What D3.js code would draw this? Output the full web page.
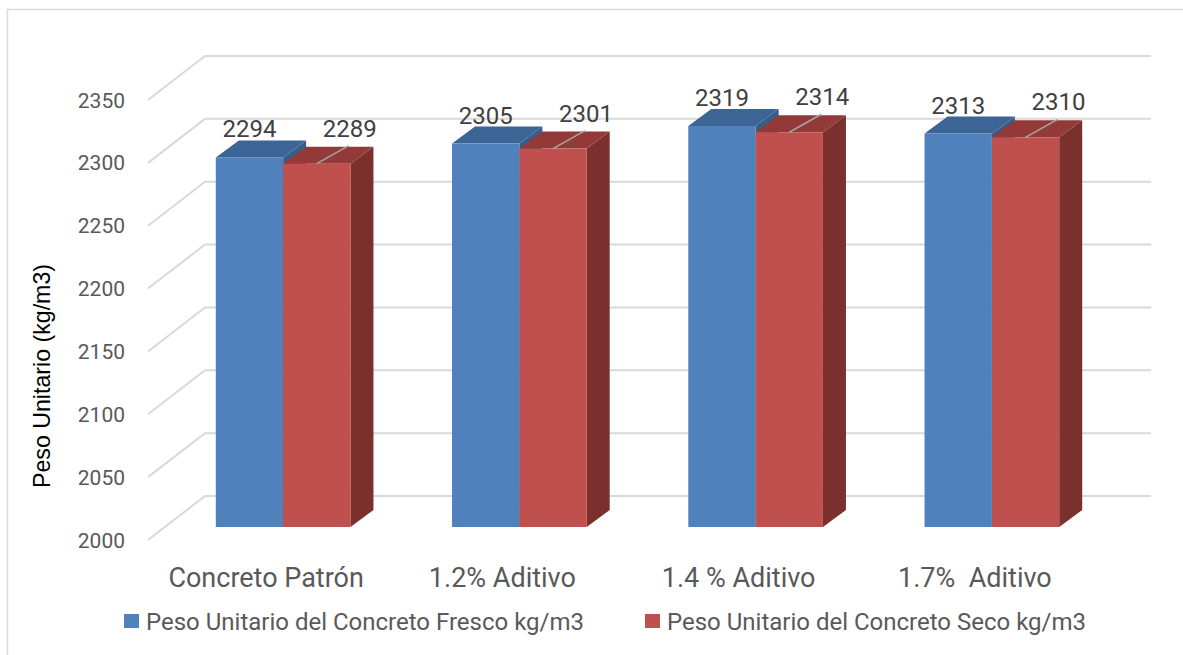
<!DOCTYPE html>
<html>
<head>
<meta charset="utf-8">
<script src="https://cdn.jsdelivr.net/npm/d3@7"></script>
<style>
  body { margin: 0; background: #fff; }
  text { font-family: Roboto, "Open Sans", sans-serif; }
</style>
</head>
<body>
<svg width="1183" height="655"></svg>
<script>
// data
var categories = ["Concreto Patrón", "1.2% Aditivo", "1.4 % Aditivo", "1.7%  Aditivo"];
var seriesNames = ["Peso Unitario del Concreto Fresco kg/m3", "Peso Unitario del Concreto Seco kg/m3"];
var fresco = [2294, 2305, 2319, 2313];
var seco = [2289, 2301, 2314, 2310];
var yTicks = [2000, 2050, 2100, 2150, 2200, 2250, 2300, 2350];

var colors = [
  {front: "#4f81bd", top: "#3c6595", side: "#385d8a"},
  {front: "#c0504d", top: "#933a38", side: "#7b302e"}
];

var svg = d3.select("svg");

// chart area border
svg.append("rect")
  .attr("x", 7.5).attr("y", 9.5)
  .attr("width", 1190).attr("height", 660)
  .attr("fill", "none").attr("stroke", "#d9d9d9").attr("stroke-width", 1.5);

// 3D geometry: floor depth offset and bar depth
var DX = 57, DY = -44;
var barOff = {x: 17, y: -13}, barDepth = {x: 23, y: -17};

var y = d3.scaleLinear().domain([2000, 2350]).range([540, 100]);
var x0 = d3.scaleBand().domain(categories).range([148, 1093])
  .paddingInner(0.43).paddingOuter(0.215);
var x1 = d3.scaleBand().domain([0, 1]).range([0, x0.bandwidth()]);

// gridlines: side wall diagonal + back wall line
var grid = svg.append("g");
yTicks.forEach(function (t) {
  grid.append("path")
    .attr("d", "M148," + y(t) + "L" + (148 + DX) + "," + (y(t) + DY) + "H1151")
    .attr("fill", "none").attr("stroke", "#d9d9d9").attr("stroke-width", 2);
});

// y tick labels
svg.append("g").selectAll("text")
  .data(yTicks).enter().append("text")
  .attr("x", 125).attr("y", function (d) { return y(d); })
  .attr("dy", "0.36em")
  .attr("text-anchor", "end")
  .attr("font-size", 21).attr("fill", "#595959")
  .text(function (d) { return d; });

// y axis title
svg.append("text")
  .attr("transform", "translate(50,376) rotate(-90)")
  .attr("text-anchor", "middle")
  .style("font-family", "'Liberation Sans', Arial, sans-serif")
  .attr("font-size", 24)
  .attr("textLength", 224).attr("lengthAdjust", "spacingAndGlyphs")
  .attr("fill", "#000")
  .text("Peso Unitario (kg/m3)");

// bars
var series = [fresco, seco];
var bars = svg.append("g");
categories.forEach(function (c, i) {
  series.forEach(function (vals, s) {
    var v = vals[i];
    var xl = x0(c) + x1(s) + barOff.x, xr = xl + x1.bandwidth();
    var yt = y(v) + barOff.y, yb = y(2000) + barOff.y;
    var col = colors[s];
    // side face
    bars.append("path")
      .attr("d", "M" + xr + "," + yt + "L" + (xr + barDepth.x) + "," + (yt + barDepth.y) +
        "L" + (xr + barDepth.x) + "," + (yb + barDepth.y) + "L" + xr + "," + yb + "Z")
      .attr("fill", col.side);
    // top face
    bars.append("path")
      .attr("d", "M" + xl + "," + yt + "L" + xr + "," + yt +
        "L" + (xr + barDepth.x) + "," + (yt + barDepth.y) +
        "L" + (xl + barDepth.x) + "," + (yt + barDepth.y) + "Z")
      .attr("fill", col.top);
    // front face
    bars.append("rect")
      .attr("x", xl).attr("y", yt)
      .attr("width", xr - xl).attr("height", yb - yt)
      .attr("fill", col.front);
  });
});

// value labels
var labels = svg.append("g");
categories.forEach(function (c, i) {
  var cx = x0(c) + x1(0) + barOff.x + x1.bandwidth() / 2;
  var yt = y(fresco[i]) + barOff.y;
  labels.append("text")
    .attr("x", cx).attr("y", yt + barDepth.y - 3)
    .attr("text-anchor", "middle")
    .attr("font-size", 24).attr("fill", "#404040")
    .text(fresco[i]);

  var rx = x0(c) + x1(1) + barOff.x + x1.bandwidth() / 2;
  var ry = y(seco[i]) + barOff.y;
  labels.append("line")
    .attr("x1", rx).attr("y1", ry)
    .attr("x2", rx + 32).attr("y2", ry - 18)
    .attr("stroke", "#a6a6a6").attr("stroke-width", 1.5);
  labels.append("text")
    .attr("x", rx + 33).attr("y", ry - 27)
    .attr("text-anchor", "middle")
    .attr("font-size", 24).attr("fill", "#404040")
    .text(seco[i]);
});

// category labels
svg.append("g").selectAll("text")
  .data(categories).enter().append("text")
  .attr("x", function (d) { return x0(d) + x0.bandwidth() / 2; })
  .attr("y", 587)
  .attr("text-anchor", "middle")
  .attr("font-size", 27).attr("fill", "#595959")
  .style("white-space", "pre")
  .text(function (d) { return d; });

// legend
var legendX = [124, 645];
var legend = svg.append("g");
seriesNames.forEach(function (name, s) {
  legend.append("rect")
    .attr("x", legendX[s]).attr("y", 614)
    .attr("width", 15).attr("height", 14)
    .attr("fill", colors[s].front);
  legend.append("text")
    .attr("x", legendX[s] + 22).attr("y", 621)
    .attr("dy", "0.36em")
    .attr("font-size", 24).attr("fill", "#595959")
    .text(name);
});
</script>
</body>
</html>
